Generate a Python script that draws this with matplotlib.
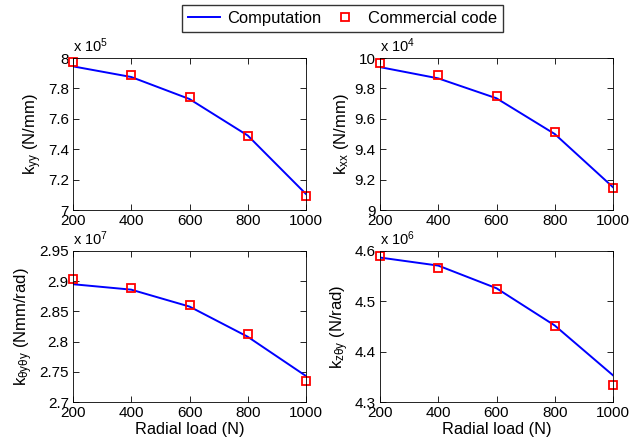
import numpy as np
import matplotlib.pyplot as plt

plt.rcParams['font.family'] = ['Liberation Sans', 'DejaVu Sans']
plt.rcParams['mathtext.fontset'] = 'custom'
plt.rcParams['mathtext.rm'] = 'Liberation Sans'
plt.rcParams['mathtext.it'] = 'Liberation Sans:italic'

# Data (values in units of the axis multiplier)
load = [200, 400, 600, 800, 1000]

kyy_comp = [7.945, 7.875, 7.73, 7.49, 7.105]
kyy_code = [7.976, 7.89, 7.745, 7.49, 7.094]

kxx_comp = [9.94, 9.866, 9.735, 9.50, 9.15]
kxx_code = [9.97, 9.89, 9.75, 9.515, 9.145]

kty_comp = [2.895, 2.886, 2.858, 2.808, 2.743]
kty_code = [2.9035, 2.889, 2.861, 2.812, 2.734]

kzt_comp = [4.587, 4.571, 4.526, 4.452, 4.353]
kzt_code = [4.591, 4.566, 4.525, 4.451, 4.334]

panels = [
    (kyy_comp, kyy_code, r'$\mathregular{k_{yy}}$ (N/mm)', 5, (7, 8), [7, 7.2, 7.4, 7.6, 7.8, 8]),
    (kxx_comp, kxx_code, r'$\mathregular{k_{xx}}$ (N/mm)', 4, (9, 10), [9, 9.2, 9.4, 9.6, 9.8, 10]),
    (kty_comp, kty_code, r'$\mathregular{k_{\theta y\theta y}}$ (Nmm/rad)', 7, (2.7, 2.95), [2.7, 2.75, 2.8, 2.85, 2.9, 2.95]),
    (kzt_comp, kzt_code, r'$\mathregular{k_{z\theta y}}$ (N/rad)', 6, (4.3, 4.6), [4.3, 4.4, 4.5, 4.6]),
]

W, H = 640, 446
fig = plt.figure(figsize=(6.4, 4.46), dpi=100)
boxes = [(73, 58, 306, 210), (380, 58, 613, 210),
         (73, 251, 306, 402), (380, 251, 613, 402)]

for i, (comp, code, ylab, expo, ylim, yticks) in enumerate(panels):
    x0, y0, x1, y1 = boxes[i]
    ax = fig.add_axes([x0 / W, 1 - y1 / H, (x1 - x0) / W, (y1 - y0) / H])
    l1, = ax.plot(load, comp, '-', color='#0000ff', lw=1.4, label='Computation')
    l2, = ax.plot(load, code, 's', mfc='none', mec='#ff0000', mew=1.3, ms=5.5,
                  label='Commercial code', clip_on=False)
    ax.set_xlim(200, 1000)
    ax.set_ylim(*ylim)
    ax.set_xticks([200, 400, 600, 800, 1000])
    ax.set_yticks(yticks)
    ax.set_yticklabels([('%g' % t) for t in yticks])
    ax.tick_params(direction='in', top=True, right=True, labelsize=11,
                   length=4, width=0.6)
    ax.tick_params(axis='x', pad=3)
    ax.tick_params(axis='y', pad=3)
    for s in ax.spines.values():
        s.set_linewidth(0.6)
    ax.set_ylabel(ylab, fontsize=12, labelpad=3)
    if i >= 2:
        ax.set_xlabel('Radial load (N)', fontsize=11.8, labelpad=1)
    ax.text(0.0, 1.02, r'x 10$^{%d}$' % expo, transform=ax.transAxes,
            fontsize=10.5, ha='left', va='bottom')

fig.legend([l1, l2], ['Computation', 'Commercial code'], ncol=2,
           loc='upper left', bbox_to_anchor=(182 / W, 1 - 5 / H),
           borderaxespad=0, fontsize=11.9, frameon=True, fancybox=False,
           edgecolor='black', handlelength=1.95, handletextpad=0.4,
           columnspacing=0.5, borderpad=0.35)

fig.savefig('out.png', dpi=100)
